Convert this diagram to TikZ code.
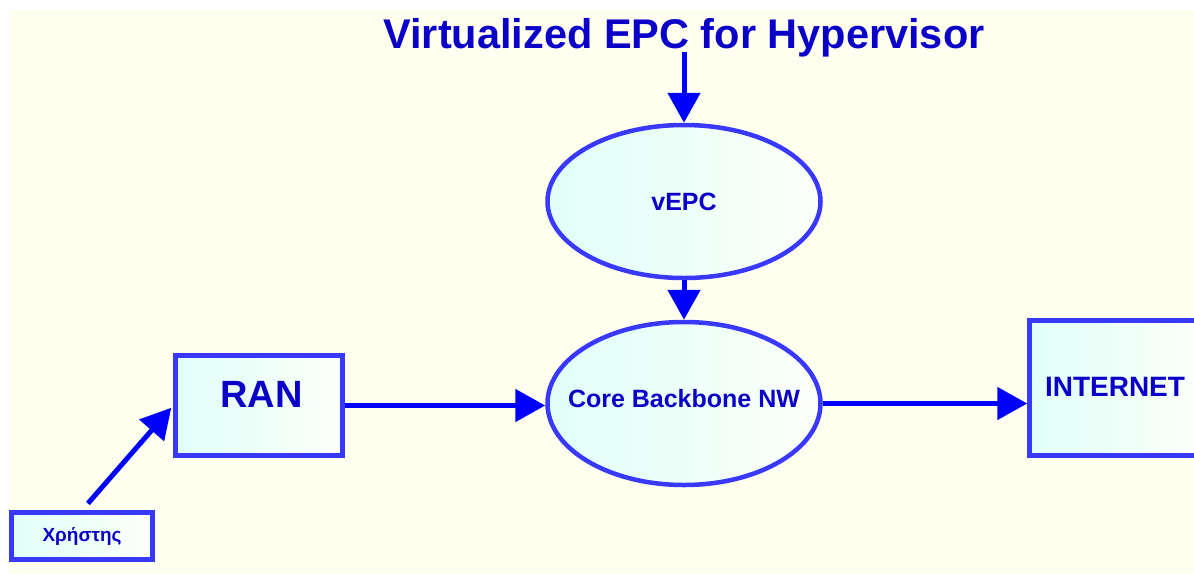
\documentclass[tikz,border=0pt]{standalone}
\usepackage{fontspec}
\setmainfont{Liberation Sans}
\usetikzlibrary{shapes.geometric,arrows.meta,calc}
\definecolor{ivorybg}{RGB}{255,255,240}
\definecolor{edgeblue}{RGB}{56,56,255}
\definecolor{arrowblue}{RGB}{0,0,255}
\definecolor{textblue}{RGB}{10,0,200}
\definecolor{filll}{RGB}{224,255,248}
\definecolor{fillr}{RGB}{252,255,250}
\tikzset{
  shapebox/.style={draw=edgeblue, line width=4.5pt, left color=filll, right color=fillr,
    inner sep=0pt, text=textblue, font=\bfseries},
  ovalnode/.style={shapebox, ellipse, inner xsep=-40pt, inner ysep=-15pt},
  rectnode/.style={shapebox, rectangle},
  arr/.style={draw=arrowblue, line width=5pt, -{Triangle[length=30pt,width=32pt]}},
}
\begin{document}
\begin{tikzpicture}[x=1pt,y=-1pt]
\useasboundingbox (0,0) rectangle (1194,574);
\fill[white] (0,0) rectangle (1194,574);
\fill[ivorybg] (9,10) rectangle (1194,574);

\node[anchor=base, inner sep=0pt, text=textblue, font=\bfseries\fontsize{41.5}{41.5}\selectfont] (title) at (684,48) {Virtualized EPC for Hypervisor};

\node[ovalnode, minimum width=273pt, minimum height=153pt, font=\bfseries\fontsize{25}{25}\selectfont] (vepc) at (684,201.5) {\raisebox{-4pt}{vEPC}};
\node[ovalnode, minimum width=273pt, minimum height=163pt, font=\bfseries\fontsize{25}{25}\selectfont] (core) at (684,403.5) {\raisebox{11pt}{Core Backbone NW}};

\node[rectnode, minimum width=167pt, minimum height=100pt, font=\bfseries\fontsize{38}{38}\selectfont] (ran) at (259,405.5) {\hspace*{5pt}\raisebox{22pt}{RAN}};
\node[rectnode, minimum width=171pt, minimum height=135pt, font=\bfseries\fontsize{28}{28}\selectfont] (internet) at (1115,388) {\raisebox{3pt}{INTERNET}};
\node[rectnode, minimum width=141pt, minimum height=47pt, font=\bfseries\fontsize{19}{19}\selectfont] (user) at (82,536) {\raisebox{-4pt}{Χρήστης}};

\draw[arr] ($(title.base -| vepc.north)+(0,4)$) -- (vepc.north);
\draw[arr] (vepc.south) -- (core.north);
\draw[arr] (ran.east) -- (ran.east -| core.west);
\draw[arr] (core.east) -- (core.east -| internet.west);
\draw[arr, shorten <=9pt, shorten >=3pt] (user.north) -- (ran.west);
\end{tikzpicture}
\end{document}
